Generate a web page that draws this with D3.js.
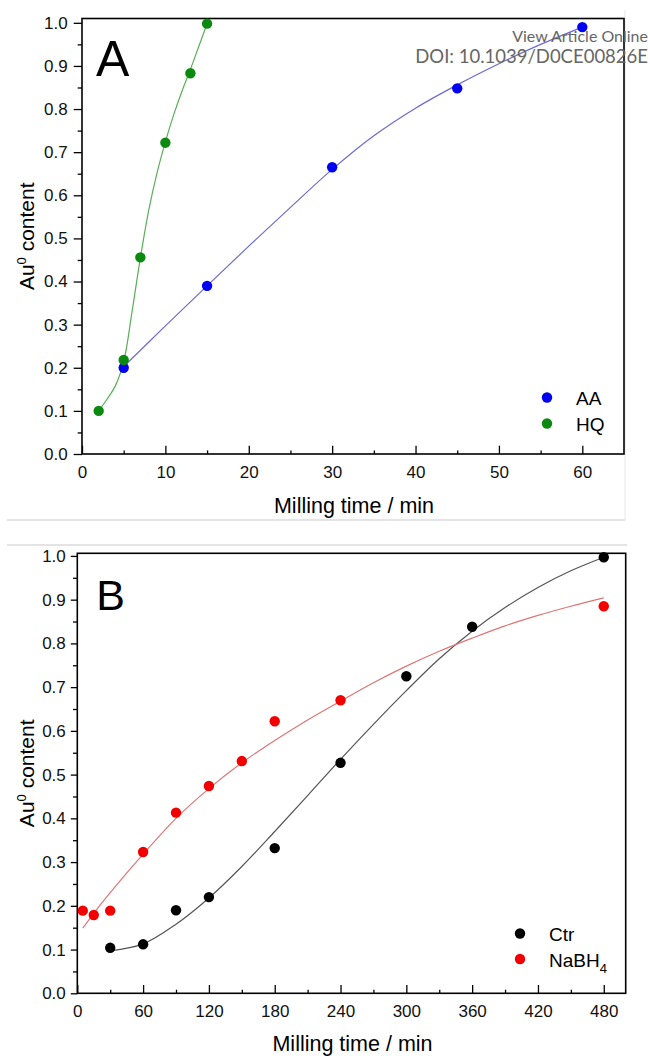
<!DOCTYPE html>
<html>
<head>
<meta charset="utf-8">
<script src="https://cdn.jsdelivr.net/npm/d3@7"></script>
<style>
body { margin: 0; background: #fff; }
svg { display: block; font-family: "Liberation Sans", Arial, sans-serif; }
.axis path { display: none; }
.axis line { stroke: #000; stroke-width: 1.3; }
.axis text { font-size: 17px; fill: #111; }
</style>
</head>
<body>
<div id="chart"></div>
<script>
// panel A data
var timeAA = [5, 15, 30, 45, 60];
var valAA = [0.200, 0.390, 0.665, 0.848, 0.990];
var timeHQ = [2, 5, 7, 10, 13, 15];
var valHQ = [0.100, 0.218, 0.456, 0.722, 0.883, 0.998];
// fitted lines
var fitTimeAA = [5, 10, 15, 20, 25, 30, 35, 40, 45, 50, 55, 60];
var fitValAA = [0.203, 0.297, 0.390, 0.482, 0.572, 0.660, 0.738, 0.802, 0.856, 0.905, 0.950, 0.990];
var fitTimeHQ = [2, 3, 4, 5, 6, 7, 8, 9, 10, 11, 12, 13, 14, 15];
var fitValHQ = [0.100, 0.127, 0.158, 0.214, 0.330, 0.455, 0.565, 0.652, 0.724, 0.787, 0.842, 0.892, 0.945, 0.998];

// panel B data
var timeCtr = [30, 60, 90, 120, 180, 240, 300, 360, 480];
var valCtr = [0.104, 0.112, 0.190, 0.220, 0.332, 0.527, 0.725, 0.838, 0.997];
var timeNa = [5, 15, 30, 60, 90, 120, 150, 180, 240, 480];
var valNa = [0.189, 0.179, 0.189, 0.323, 0.413, 0.474, 0.531, 0.622, 0.670, 0.885];
var fitTimeCtr = [30, 60, 90, 120, 150, 180, 210, 240, 270, 300, 330, 360, 390, 420, 450, 480];
var fitValCtr = [0.097, 0.113, 0.158, 0.218, 0.290, 0.370, 0.452, 0.535, 0.615, 0.692, 0.765, 0.828, 0.882, 0.928, 0.966, 0.997];
var fitTimeNa = [5, 15, 30, 60, 90, 120, 150, 180, 210, 240, 270, 300, 330, 360, 390, 420, 450, 480];
var fitValNa = [0.149, 0.183, 0.230, 0.318, 0.400, 0.468, 0.527, 0.578, 0.625, 0.668, 0.710, 0.748, 0.782, 0.812, 0.840, 0.864, 0.885, 0.904];

var yTicks = [0, 0.1, 0.2, 0.3, 0.4, 0.5, 0.6, 0.7, 0.8, 0.9, 1.0];
var yMinor = [0.05, 0.15, 0.25, 0.35, 0.45, 0.55, 0.65, 0.75, 0.85, 0.95];
var xTicksA = [0, 10, 20, 30, 40, 50, 60];
var xMinorA = [5, 15, 25, 35, 45, 55];
var xTicksB = [0, 60, 120, 180, 240, 300, 360, 420, 480];
var xMinorB = [30, 90, 150, 210, 270, 330, 390, 450];

var width = 650, height = 1056;

var svg = d3.select("#chart").append("svg")
    .attr("width", width)
    .attr("height", height);

// page furniture: thin grey rules between the two panels
svg.append("line").attr("x1", 7).attr("x2", 625).attr("y1", 520).attr("y2", 520)
    .attr("stroke", "#c8c8c8").attr("stroke-width", 1);
svg.append("line").attr("x1", 625).attr("x2", 625).attr("y1", 10).attr("y2", 520)
    .attr("stroke", "#e6e6e6").attr("stroke-width", 1);
svg.append("line").attr("x1", 7).attr("x2", 627).attr("y1", 545).attr("y2", 545)
    .attr("stroke", "#c8c8c8").attr("stroke-width", 1);

function drawPanel(p) {
    var x = d3.scaleLinear().domain(p.xDomain).range([p.left, p.right]);
    var y = d3.scaleLinear().domain(p.yDomain).range([p.bottom, p.top]);
    var g = svg.append("g");

    // y axis, ticks outward
    g.append("g").attr("class", "axis")
        .attr("transform", `translate(${p.left},0)`)
        .call(d3.axisLeft(y).tickValues(yTicks).tickSize(p.yTick).tickPadding(p.yPad).tickFormat(d3.format(".1f")));
    g.append("g").attr("class", "axis")
        .attr("transform", `translate(${p.left},0)`)
        .call(d3.axisLeft(y).tickValues(yMinor).tickSize(4.3).tickFormat(""));

    // x axis, ticks inward
    g.append("g").attr("class", "axis")
        .attr("transform", `translate(0,${p.bottom})`)
        .call(d3.axisBottom(x).tickValues(p.xTicks).tickSizeInner(-8.3).tickSizeOuter(0).tickPadding(11.5));
    g.append("g").attr("class", "axis")
        .attr("transform", `translate(0,${p.bottom})`)
        .call(d3.axisBottom(x).tickValues(p.xMinor).tickSizeInner(-3.6).tickSizeOuter(0).tickFormat(""));

    // frame
    g.append("rect")
        .attr("x", p.left).attr("y", p.top)
        .attr("width", p.right - p.left).attr("height", p.bottom - p.top)
        .attr("fill", "none").attr("stroke", "#000").attr("stroke-width", 1.6);

    var line = d3.line()
        .x(d => x(d[0]))
        .y(d => y(d[1]))
        .curve(d3.curveCatmullRom.alpha(0.5));

    p.series.forEach(function(s) {
        g.append("path")
            .datum(d3.zip(s.fitX, s.fitY))
            .attr("fill", "none")
            .attr("stroke", s.lineColor)
            .attr("stroke-width", 1.2)
            .attr("d", line);
    });
    p.series.forEach(function(s) {
        g.selectAll(null)
            .data(d3.zip(s.x, s.y))
            .enter()
            .append("circle")
            .attr("cx", d => x(d[0]))
            .attr("cy", d => y(d[1]))
            .attr("r", 5.2)
            .attr("fill", s.color);
    });

    // panel letter
    g.append("text")
        .attr("x", p.left + p.letterDx).attr("y", p.letterY)
        .style("font-size", p.letterSize + "px")
        .text(p.letter);

    // y title
    var yt = g.append("text")
        .attr("transform", `translate(33.5,${(p.top + p.bottom) / 2}) rotate(-90)`)
        .attr("text-anchor", "middle")
        .style("font-size", "21px");
    yt.append("tspan").text("Au");
    yt.append("tspan").attr("dy", -8).style("font-size", "13px").text("0");
    yt.append("tspan").attr("dy", 8).text(" content");

    // x title
    g.append("text")
        .attr("x", (p.left + p.right) / 2 + 1)
        .attr("y", p.xTitleY)
        .attr("text-anchor", "middle")
        .style("font-size", "21.5px")
        .text("Milling time / min");

    // legend
    p.series.forEach(function(s, i) {
        var ly = p.legendY + i * p.legendGap;
        g.append("circle")
            .attr("cx", p.legendX).attr("cy", ly)
            .attr("r", 5.2).attr("fill", s.color);
        var t = g.append("text")
            .attr("x", p.legendX + 29).attr("y", ly + 7.5)
            .style("font-size", "19px");
        t.append("tspan").text(s.name);
        if (s.sub) {
            t.append("tspan").attr("dy", 6).style("font-size", "13px").text(s.sub);
        }
    });
}

drawPanel({
    letter: "A", letterDx: 14, letterY: 76, letterSize: 50,
    left: 82, right: 624, top: 18.5, bottom: 454,
    xDomain: [0, 65], yDomain: [0, 1.01],
    xTicks: xTicksA, xMinor: xMinorA,
    yTick: 8.3, yPad: 6,
    xTitleY: 513,
    legendX: 547, legendY: 397.5, legendGap: 26,
    series: [
        { name: "AA", x: timeAA, y: valAA, fitX: fitTimeAA, fitY: fitValAA, color: "#0000f2", lineColor: "#6b6bd3" },
        { name: "HQ", x: timeHQ, y: valHQ, fitX: fitTimeHQ, fitY: fitValHQ, color: "#0b8a12", lineColor: "#5aaf5a" }
    ]
});

drawPanel({
    letter: "B", letterDx: 19, letterY: 610, letterSize: 43,
    left: 77.3, right: 625.7, top: 553.3, bottom: 993.3,
    xDomain: [0, 500], yDomain: [0, 1.006],
    xTicks: xTicksB, xMinor: xMinorB,
    yTick: 6.5, yPad: 5,
    xTitleY: 1051,
    legendX: 520, legendY: 933.5, legendGap: 25.5,
    series: [
        { name: "Ctr", x: timeCtr, y: valCtr, fitX: fitTimeCtr, fitY: fitValCtr, color: "#000", lineColor: "#555" },
        { name: "NaBH", sub: "4", x: timeNa, y: valNa, fitX: fitTimeNa, fitY: fitValNa, color: "#f20000", lineColor: "#de7676" }
    ]
});

// journal watermark
svg.append("text")
    .attr("x", 648).attr("y", 41.5)
    .attr("text-anchor", "end")
    .style("font-family", "Lato, sans-serif")
    .style("font-size", "16px")
    .attr("fill", "#666")
    .text("View Article Online");
svg.append("text")
    .attr("x", 648).attr("y", 62.5)
    .attr("text-anchor", "end")
    .style("font-family", "Lato, sans-serif")
    .style("font-size", "18.5px")
    .attr("fill", "#666")
    .text("DOI: 10.1039/D0CE00826E");
</script>
</body>
</html>
